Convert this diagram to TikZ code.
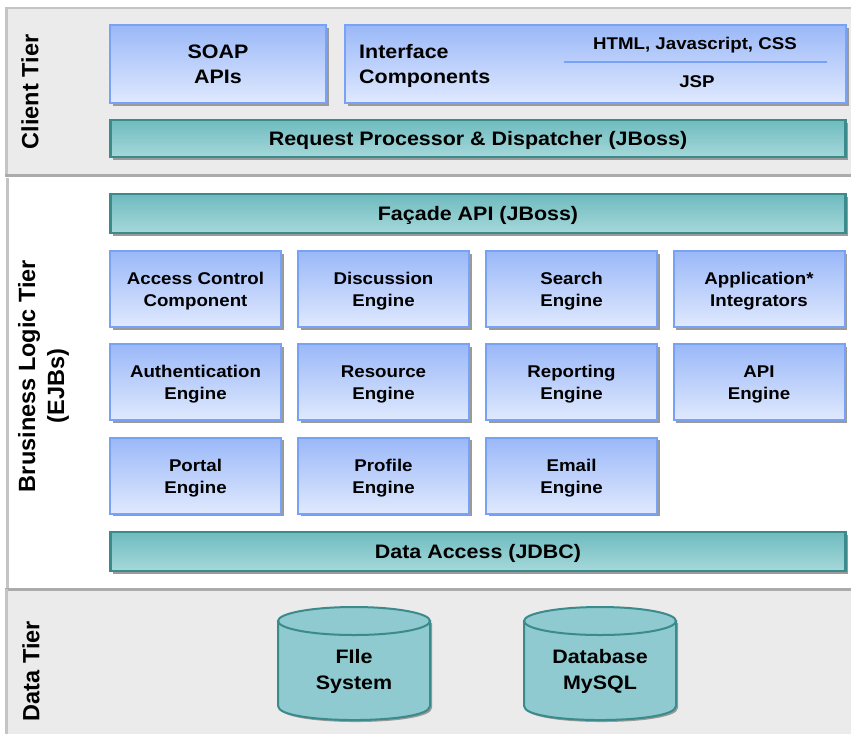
\documentclass[tikz,border=0pt]{standalone}
\usepackage{fontspec}
\setmainfont{Liberation Sans}[FakeStretch=1.1]
\newfontfamily\tierfont{Liberation Sans}
\usetikzlibrary{shadows}
\definecolor{panelgray}{HTML}{EBEBEB}
\definecolor{panelline}{HTML}{C4C4C4}
\definecolor{paneldark}{HTML}{ABABAB}
\definecolor{boxbluetop}{HTML}{9AB8F8}
\definecolor{boxbluebot}{HTML}{E0E9FE}
\definecolor{boxblueline}{HTML}{77A2F5}
\definecolor{tealtop}{HTML}{6EBBBF}
\definecolor{tealbot}{HTML}{A6D8DA}
\definecolor{tealline}{HTML}{3B8A8C}
\definecolor{cylfill}{HTML}{8ECACF}
\definecolor{shadowgray}{HTML}{9A9A9A}
\tikzset{
  bluebox/.style={draw=boxblueline, line width=2pt, top color=boxbluetop, bottom color=boxbluebot,
    inner sep=0pt, align=center, text=black,
    drop shadow={shadow xshift=2.5pt, shadow yshift=-2.5pt, fill=shadowgray, opacity=1}},
  enginetext/.style={inner sep=0pt, align=center, yshift=-2.5pt, font=\fontsize{17}{22}\selectfont\bfseries},
  enginebox/.style={bluebox, minimum width=171pt, minimum height=76pt,
    label={[enginetext]center:{#1}}},
  bartext/.style={inner sep=0pt, yshift=-2pt, font=\fontsize{19.5}{24}\selectfont\bfseries},
  tealbar/.style={draw=tealline, line width=2.5pt, top color=tealtop, bottom color=tealbot,
    inner sep=0pt, minimum width=735pt,
    drop shadow={shadow xshift=2.5pt, shadow yshift=-2.5pt, fill=shadowgray, opacity=1},
    label={[bartext]center:{#1}}},
  tierlabel/.style={rotate=90, inner sep=0pt, font=\tierfont\bfseries\fontsize{23.5}{28}\selectfont},
  cyltext/.style={inner sep=0pt, align=center, font=\fontsize{19.5}{26}\selectfont\bfseries},
  mainlabel/.style={inner sep=0pt, align=center, font=\fontsize{19.5}{25}\selectfont\bfseries},
  smalllabel/.style={inner sep=0pt, font=\fontsize{17}{20}\selectfont\bfseries},
  cylshape/.style={draw=tealline, line width=2pt, fill=cylfill},
}
\begin{document}
\begin{tikzpicture}[x=1pt,y=-1pt]
\useasboundingbox (0,0) rectangle (851,734);
\fill[white] (0,0) rectangle (851,734);
% ---- panels
\fill[panelgray] (5,7) rectangle (851,177);
\draw[panelline, line width=2pt] (6,8) -- (851,8);
\draw[panelline, line width=3pt] (6.5,7) -- (6.5,177);
\draw[paneldark, line width=3pt] (5,175.5) -- (851,175.5);
\fill[white] (5,178) rectangle (851,588);
\draw[panelline, line width=3pt] (7.5,178) -- (7.5,588);
\fill[panelgray] (5,588) rectangle (851,734);
\draw[paneldark, line width=3pt] (5,589) -- (851,589);
\draw[panelline, line width=3pt] (6.5,589) -- (6.5,734);
% ---- tier labels
\node[tierlabel] (tclient) at (30,92) {Client Tier};
\node[tierlabel] (tbiz) at (29,376) {Brusiness Logic Tier};
\node[tierlabel] (tejb) at (58,386) {(EJBs)};
\node[tierlabel] (tdata) at (31,671) {Data Tier};
% ---- client tier
\node[bluebox, minimum width=216pt, minimum height=78pt, font=\fontsize{19.5}{25}\selectfont\bfseries] (soap) at (218,64) {SOAP\\APIs};
\node[bluebox, minimum width=501pt, minimum height=78pt] (iface) at (595.5,64) {};
\node[mainlabel, align=left, anchor=west] (ifacetext) at (359,66) {Interface\\Components};
\coordinate (sepL) at (564,62);
\coordinate (sepR) at (827,62);
\draw[boxblueline, line width=1.6pt] (sepL) -- (sepR);
\node[smalllabel] (html) at (695,45) {HTML, Javascript, CSS};
\node[smalllabel] (jsp) at (697,82) {JSP};
\node[tealbar={Request Processor \& Dispatcher (JBoss)}, minimum height=37pt] (req) at (478,138.5) {};
% ---- business tier
\node[tealbar={Façade API (JBoss)}, minimum height=39pt] (facade) at (478,213.5) {};
\node[enginebox={Access Control\\Component}] (acc) at (195.5,289) {};
\node[enginebox={Discussion\\Engine}] (disc) at (383.5,289) {};
\node[enginebox={Search\\Engine}] (search) at (571.5,289) {};
\node[enginebox={Application*\\Integrators}] (appint) at (759,289) {};
\node[enginebox={Authentication\\Engine}] (auth) at (195.5,382) {};
\node[enginebox={Resource\\Engine}] (res) at (383.5,382) {};
\node[enginebox={Reporting\\Engine}] (rep) at (571.5,382) {};
\node[enginebox={API\\Engine}] (api) at (759,382) {};
\node[enginebox={Portal\\Engine}] (portal) at (195.5,475.5) {};
\node[enginebox={Profile\\Engine}] (profile) at (383.5,475.5) {};
\node[enginebox={Email\\Engine}] (email) at (571.5,475.5) {};
\node[tealbar={Data Access (JDBC)}, minimum height=39pt] (dacc) at (478,551.5) {};
% ---- data tier cylinders
\foreach \cx/\nm in {354/fs, 600/db} {
  \fill[shadowgray] (\cx-76+2,621+2) -- (\cx-76+2,706+2) .. controls (\cx-76+2,724.7+2) and (\cx+76+2,724.7+2) .. (\cx+76+2,706+2) -- (\cx+76+2,621+2) -- cycle;
  \path[cylshape] (\cx-76,621) -- (\cx-76,706) .. controls (\cx-76,724.7) and (\cx+76,724.7) .. (\cx+76,706) -- (\cx+76,621) -- cycle;
  \path[cylshape] (\cx,621) ellipse [x radius=76, y radius=14];
}
\node[cyltext] (fs) at (354,671) {FIle\\System};
\node[cyltext] (db) at (600,671) {Database\\MySQL};
\end{tikzpicture}
\end{document}
